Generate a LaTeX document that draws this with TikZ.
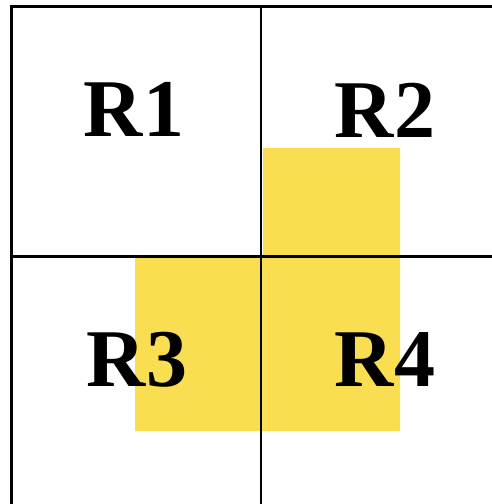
\documentclass[tikz,border=0pt]{standalone}
\usepackage{fontspec}
\setmainfont{Liberation Serif}
\definecolor{hl}{RGB}{249,222,82}
\begin{document}
\begin{tikzpicture}[x=1pt,y=-1pt,
  grid/.style={line width=2.5pt,black},
  lbl/.style={inner sep=0pt,anchor=base,font=\fontsize{82}{82}\bfseries\selectfont}]
\useasboundingbox (0,0) rectangle (492,504);
\fill[hl] (263,148) -- (400,148) -- (400,431) -- (135,431) -- (135,256) -- (263,256) -- cycle;
\draw[grid] (11.5,504) -- (11.5,6.5) -- (492,6.5);
\draw[grid] (261,6.5) -- (261,504);
\draw[grid] (11.5,256.5) -- (492,256.5);
\node[lbl] (r1) at (134,136) {R1};
\node[lbl] (r2) at (385,137) {R2};
\node[lbl] (r3) at (137,386) {R3};
\node[lbl] (r4) at (385,386) {R4};
\end{tikzpicture}
\end{document}
